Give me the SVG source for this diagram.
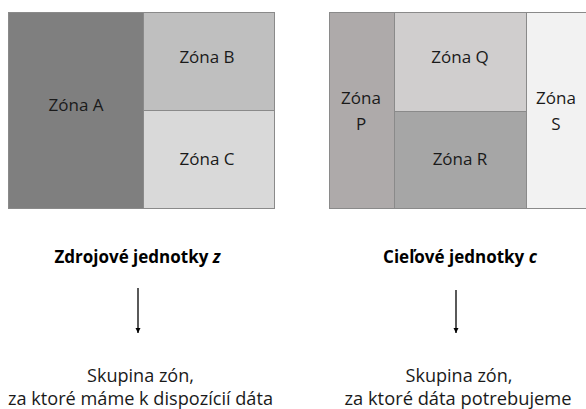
<svg xmlns="http://www.w3.org/2000/svg" width="586" height="409" viewBox="0 0 586 409">
<style>
.z{stroke:#8a8a8a;stroke-width:1}
.t{font-family:"Open Sans","Liberation Sans",sans-serif;font-size:17px;fill:#1a1a1a;text-anchor:middle}
.l{font-size:18px}
.b{font-weight:bold;fill:#000}
.c{stroke:#000;stroke-width:1.3;fill:none}
</style>
<defs>
<marker id="ah" viewBox="0 0 10 10" refX="10" refY="5" markerWidth="5" markerHeight="6" markerUnits="userSpaceOnUse" orient="auto">
<path d="M0,0 L10,5 L0,10 z" fill="#000"/>
</marker>
</defs>
<g id="zonaA"><rect class="z" x="8.5" y="12.5" width="135" height="196" fill="#7f7f7f"/><text class="t" x="76" y="111">Zóna A</text></g>
<g id="zonaB"><rect class="z" x="143.5" y="12.5" width="131" height="98" fill="#bfbfbf"/><text class="t" x="207" y="63">Zóna B</text></g>
<g id="zonaC"><rect class="z" x="143.5" y="110.5" width="131" height="98" fill="#d9d9d9"/><text class="t" x="207" y="165">Zóna C</text></g>
<g id="zonaP"><rect class="z" x="329.5" y="12.5" width="65" height="196" fill="#aeaaaa"/><text class="t" x="361" y="104">Zóna</text><text class="t" x="361" y="130">P</text></g>
<g id="zonaQ"><rect class="z" x="394.5" y="12.5" width="132" height="99" fill="#d0cece"/><text class="t" x="460" y="63">Zóna Q</text></g>
<g id="zonaR"><rect class="z" x="394.5" y="111.5" width="132" height="97" fill="#a6a6a6"/><text class="t" x="460" y="165">Zóna R</text></g>
<g id="zonaS"><rect class="z" x="526.5" y="12.5" width="70" height="196" fill="#f2f2f2"/><text class="t" x="556" y="104">Zóna</text><text class="t" x="556" y="130">S</text></g>
<g id="zdroj"><text class="t b" x="137.5" y="263">Zdrojové jednotky <tspan font-style="italic">z</tspan></text></g>
<g id="ciel"><text class="t b" x="460" y="263">Cieľové jednotky <tspan font-style="italic">c</tspan></text></g>
<g id="skupinaZ"><text class="t l" x="140.5" y="382" textLength="107" lengthAdjust="spacingAndGlyphs">Skupina zón,</text><text class="t l" x="140.5" y="405" textLength="265" lengthAdjust="spacingAndGlyphs">za ktoré máme k dispozícií dáta</text></g>
<g id="skupinaC"><text class="t l" x="459" y="382" textLength="107" lengthAdjust="spacingAndGlyphs">Skupina zón,</text><text class="t l" x="458" y="405" textLength="227" lengthAdjust="spacingAndGlyphs">za ktoré dáta potrebujeme</text></g>
<g id="connectors">
<line class="c" x1="138" y1="288" x2="138" y2="333" marker-end="url(#ah)"/>
<line class="c" x1="456" y1="290" x2="456" y2="333" marker-end="url(#ah)"/>
</g>
</svg>
